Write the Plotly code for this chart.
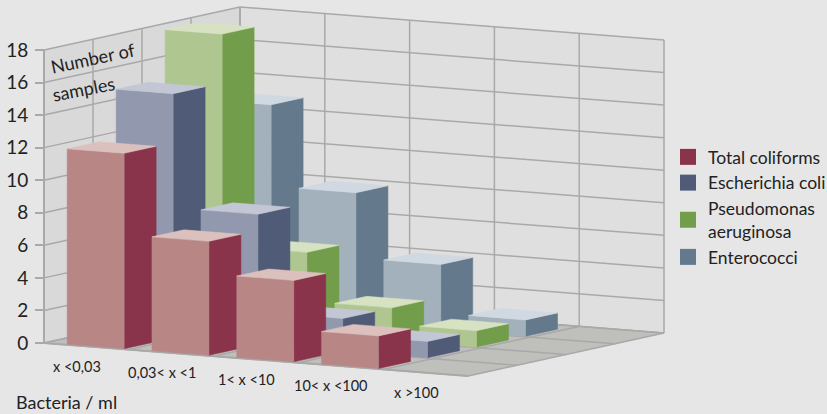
import plotly.graph_objects as go

# Counts per bacteria range
categories = ["x <0,03", "0,03< x <1", "1< x <10", "10< x <100", "x >100"]
total_coliforms = [12, 7, 5, 2, 0]
escherichia_coli = [15, 8, 2, 1, 0]
pseudomonas = [18, 5, 2, 1, 0]
enterococci = [13, 8, 4, 1, 0]
value_ticks = [0, 2, 4, 6, 8, 10, 12, 14, 16, 18]

series = [
    ("Total coliforms", total_coliforms, "#8A344B", "#B98686", "#DCC0BE"),
    ("Escherichia coli", escherichia_coli, "#505C77", "#9298AD", "#C3C7D5"),
    ("Pseudomonas<br>aeruginosa", pseudomonas, "#729D4A", "#AFC690", "#D6E2C2"),
    ("Enterococci", enterococci, "#647A8C", "#A3B1BD", "#D0D9E1"),
]

# Oblique view: each depth row shifts right and up, each category drifts slightly down
W, H = 827, 414
UNIT_X, UNIT_Y = 84.8, 16.28
ORIGIN_X, ORIGIN_Y = 44, 343
DEPTH_DX, DEPTH_DY = 49.0, 10.75
CAT_DY = 6.6
BAR_W, BAR_D = 0.672, 0.653
BAR_A, BAR_B = 0.25, 0.04
FONT = "Lato"
INK = "#222222"
GRID = "#A9A9A9"


def project(i, d, v):
    return (i + d * DEPTH_DX / UNIT_X, v + (DEPTH_DY * d - CAT_DY * i) / UNIT_Y)


def polygon(corners, color, line=None, width=0.5):
    pts = [project(*c) for c in corners] + [project(*corners[0])]
    return go.Scatter(
        x=[p[0] for p in pts], y=[p[1] for p in pts],
        mode="lines", fill="toself", fillcolor=color,
        line=dict(color=line or color, width=width),
        hoverinfo="skip", showlegend=False,
    )


def lines(segments, width=1.5):
    xs, ys = [], []
    for a, b in segments:
        pa, pb = project(*a), project(*b)
        xs += [pa[0], pb[0], None]
        ys += [pa[1], pb[1], None]
    return go.Scatter(x=xs, y=ys, mode="lines", line=dict(color=GRID, width=width),
                      hoverinfo="skip", showlegend=False)


n_cat, n_dep, top = len(categories), len(series), value_ticks[-1]
fig = go.Figure()

# Walls and floor
fig.add_trace(polygon([(0, 0, 0), (0, n_dep, 0), (0, n_dep, top), (0, 0, top)], "#D9D9D9"))
fig.add_trace(polygon([(0, n_dep, 0), (n_cat, n_dep, 0), (n_cat, n_dep, top), (0, n_dep, top)], "#DFDFDF"))
fig.add_trace(polygon([(0, 0, 0), (n_cat, 0, 0), (n_cat, n_dep, 0), (0, n_dep, 0)], "#BFBFBC"))

grid = []
for v in value_ticks:
    grid.append(((0, 0, v), (0, n_dep, v)))
    grid.append(((0, n_dep, v), (n_cat, n_dep, v)))
for d in range(n_dep + 1):
    grid.append(((0, d, 0), (0, d, top)))
    grid.append(((0, d, 0), (n_cat, d, 0)))
for i in range(n_cat + 1):
    grid.append(((i, n_dep, 0), (i, n_dep, top)))
    grid.append(((i, 0, 0), (i, n_dep, 0)))
fig.add_trace(lines(grid))
fig.add_trace(lines([((0, 0, 0), (0, 0, top)), ((0, 0, 0), (n_cat, 0, 0))], width=2))

# Bars, painted from the back row forward and left to right
for d in reversed(range(n_dep)):
    _, values, side, front, cap = series[d]
    for i, v in enumerate(values):
        if v == 0:
            continue
        x0, x1 = i + BAR_A, i + BAR_A + BAR_W
        d0, d1 = d + BAR_B, d + BAR_B + BAR_D
        fig.add_trace(polygon([(x1, d0, 0), (x1, d1, 0), (x1, d1, v), (x1, d0, v)], side))
        fig.add_trace(polygon([(x0, d0, 0), (x1, d0, 0), (x1, d0, v), (x0, d0, v)], front))
        fig.add_trace(polygon([(x0, d0, v), (x1, d0, v), (x1, d1, v), (x0, d1, v)], cap))

# Legend keys
for name, _, side, _, _ in series:
    fig.add_trace(go.Scatter(x=[None], y=[None], name=name, mode="markers",
                             marker=dict(symbol="square", size=16, color=side)))

# Category labels sit in front of the floor and follow its slope
annotations = []
for i, label in enumerate(categories):
    x, y = project(i + 1.2, -1.404, 0)
    annotations.append(dict(x=x, y=y, text=label, showarrow=False, xanchor="center",
                            yanchor="middle", font=dict(family=FONT, size=14.5, color=INK)))


def pixel(px, py):
    return (px - ORIGIN_X) / UNIT_X, (ORIGIN_Y - py) / UNIT_Y


for text, px, py, angle, size in [
    ("Number of", 93, 58, -12, 18),
    ("samples", 83, 89, -11, 18),
    ("Bacteria / ml", 66, 402, 0, 18),
]:
    x, y = pixel(px, py)
    annotations.append(dict(x=x, y=y, text=text, showarrow=False, textangle=angle,
                            xanchor="center", yanchor="middle",
                            font=dict(family=FONT, size=size, color=INK)))

fig.update_layout(
    width=W, height=H, margin=dict(l=0, r=0, t=0, b=0, autoexpand=False),
    paper_bgcolor="#E6E6E6", plot_bgcolor="rgba(0,0,0,0)",
    xaxis=dict(domain=[0, 1], range=[-ORIGIN_X / UNIT_X, (W - ORIGIN_X) / UNIT_X], visible=False),
    yaxis=dict(range=[(ORIGIN_Y - H) / UNIT_Y, ORIGIN_Y / UNIT_Y], tickvals=value_ticks,
               anchor="free", position=ORIGIN_X / W,
               showgrid=False, zeroline=False, showline=False, ticks="outside", ticklen=9,
               tickwidth=1.5, tickcolor=GRID, automargin=False, ticklabelstandoff=3,
               tickfont=dict(family=FONT, size=19, color=INK)),
    legend=dict(x=668 / W, y=1 - 139 / H, xanchor="left", yanchor="top",
                bgcolor="rgba(0,0,0,0)", borderwidth=0, itemwidth=30, tracegroupgap=0,
                font=dict(family=FONT, size=17.5, color=INK)),
    annotations=annotations,
)

fig.write_html("out.html")
